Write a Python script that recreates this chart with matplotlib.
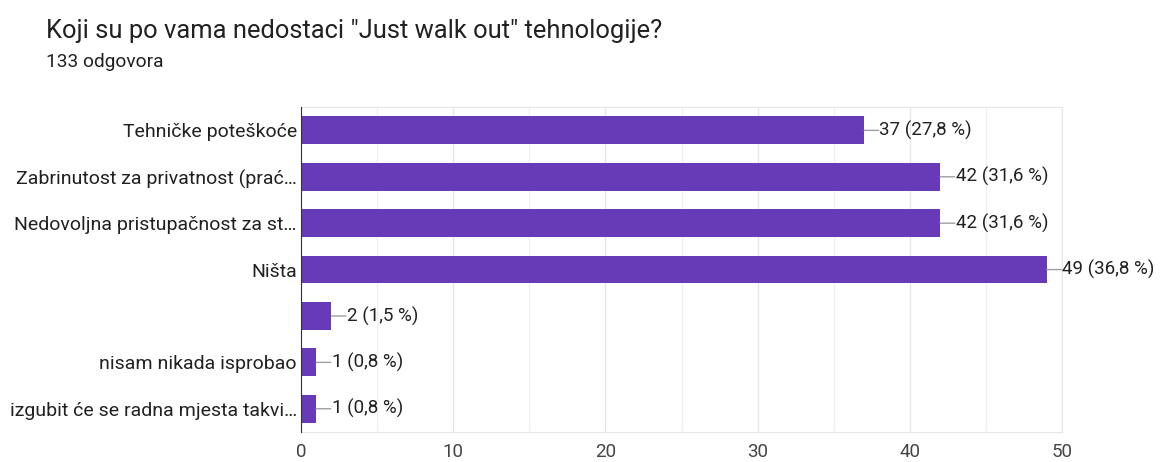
import matplotlib.pyplot as plt
from matplotlib.ticker import MultipleLocator

plt.rcParams["font.family"] = ["Roboto", "DejaVu Sans"]

# Survey answers (count and share of 133 responses)
CATEGORIES = [
    "Tehničke poteškoće",
    "Zabrinutost za privatnost (prać…",
    "Nedovoljna pristupačnost za st…",
    "Ništa",
    "",
    "nisam nikada isprobao",
    "izgubit će se radna mjesta takvi…",
]
COUNTS = [37, 42, 42, 49, 2, 1, 1]
PERCENTS = ["27,8", "31,6", "31,6", "36,8", "1,5", "0,8", "0,8"]
X_TICKS = [0, 10, 20, 30, 40, 50]

BAR_COLOR = "#673AB7"
TEXT_COLOR = "#212121"

fig = plt.figure(figsize=(11.7, 4.62), dpi=100)
ax = fig.add_axes([0.2573, 0.065, 0.6504, 0.703])

y = list(range(len(CATEGORIES)))
ax.barh(y, COUNTS, height=0.6, color=BAR_COLOR, zorder=3)
ax.set_ylim(len(CATEGORIES) - 0.5, -0.5)
ax.set_xlim(0, 50)

# value labels with a short leader line
for yi, c, p in zip(y, COUNTS, PERCENTS):
    ax.annotate("", xy=(c, yi), xytext=(10.5, 0), textcoords="offset points",
                arrowprops=dict(arrowstyle="-", color="#9e9e9e", lw=1,
                                shrinkA=0, shrinkB=0),
                annotation_clip=False)
    ax.annotate(f"{c} ({p} %)", xy=(c, yi), xytext=(11, 0),
                textcoords="offset points", va="center", ha="left",
                fontsize=13.5, color=TEXT_COLOR, annotation_clip=False)

ax.set_yticks(y)
ax.set_yticklabels(CATEGORIES, fontsize=14, color=TEXT_COLOR)
ax.set_xticks(X_TICKS)
ax.set_xticklabels([str(t) for t in X_TICKS], fontsize=13.5, color="#444444")
ax.xaxis.set_minor_locator(MultipleLocator(5))
ax.tick_params(axis="both", which="both", length=0)
ax.tick_params(axis="y", pad=3)
ax.tick_params(axis="x", pad=8)

ax.grid(axis="x", which="major", color="#e6e6e6", lw=1, zorder=0)
ax.grid(axis="x", which="minor", color="#f0f0f0", lw=1, zorder=0)

for side in ("top", "right", "bottom"):
    ax.spines[side].set_color("#e6e6e6")
ax.spines["left"].set_color("#333333")
ax.spines["left"].set_zorder(4)

fig.text(46 / 1170, 1 - 31 / 462, 'Koji su po vama nedostaci "Just walk out" tehnologije?',
         fontsize=18.4, color=TEXT_COLOR, va="center", ha="left")
fig.text(46 / 1170, 1 - 62 / 462, "133 odgovora", fontsize=13.8,
         color=TEXT_COLOR, va="center", ha="left")

fig.savefig("out.png", dpi=100)
